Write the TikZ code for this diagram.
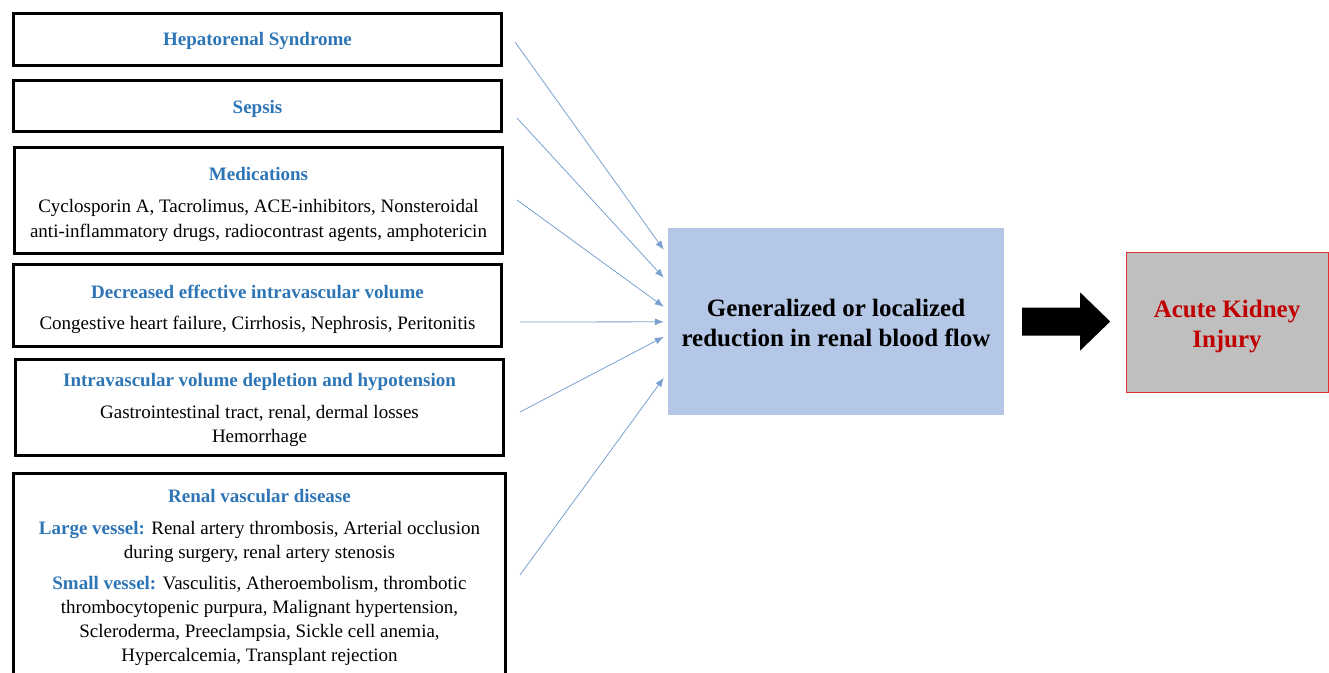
\documentclass[tikz,border=0pt]{standalone}
\usepackage{fontspec}
\setmainfont{Liberation Serif}
\usetikzlibrary{arrows.meta}

\definecolor{headblue}{RGB}{46,117,182}
\definecolor{feedblue}{RGB}{122,160,207}
\definecolor{flowblue}{RGB}{180,199,231}
\definecolor{akired}{RGB}{192,0,0}
\definecolor{akiedge}{RGB}{224,50,50}
\definecolor{akigray}{RGB}{191,191,191}

% heading text, optional strut lowers the block inside its box
\newcommand{\hd}[2][0pt]{\rule{0pt}{#1}\textbf{\color{headblue}#2}}

\tikzset{
  cause/.style={draw=black, line width=3pt, minimum width=488pt, align=center,
    inner sep=0pt, font=\fontsize{19}{24}\selectfont},
  feed/.style={draw=feedblue, line width=0.8pt, -{Latex[length=9pt,width=7pt]}}
}

\begin{document}
\begin{tikzpicture}[x=1pt,y=-1pt]
  \useasboundingbox (0,0) rectangle (1329,672);

  % causes
  \node[cause, minimum height=52pt]  (hrs) at (257.5,39.5) {\hd[17pt]{Hepatorenal Syndrome}};
  \node[cause, minimum height=51pt]  (sep) at (257.5,106) {\hd[19pt]{Sepsis}};
  \node[cause, minimum height=106pt] (med) at (258.5,200.5)
    {\hd[22pt]{Medications}\\[8pt]
     Cyclosporin A, Tacrolimus, ACE-inhibitors, Nonsteroidal\\[1pt]
     anti-inflammatory drugs, radiocontrast agents, amphotericin};
  \node[cause, minimum height=82pt]  (dev) at (257.5,305.5)
    {\hd[22pt]{Decreased effective intravascular volume}\\[7pt]
     Congestive heart failure, Cirrhosis, Nephrosis, Peritonitis};
  \node[cause, minimum height=96pt]  (ivd) at (259.5,407.5)
    {\hd[19pt]{Intravascular volume depletion and hypotension}\\[8pt]
     Gastrointestinal tract, renal, dermal losses\\
     Hemorrhage};
  \node[cause, minimum width=492pt, minimum height=208pt] (rvd) at (259.5,577.5)
    {\hd{Renal vascular disease}\\[8pt]
     \hd{Large vessel:} Renal artery thrombosis, Arterial occlusion\\
     during surgery, renal artery stenosis\\[7pt]
     \hd{Small vessel:} Vasculitis, Atheroembolism, thrombotic\\
     thrombocytopenic purpura, Malignant hypertension,\\
     Scleroderma, Preeclampsia, Sickle cell anemia,\\
     Hypercalcemia, Transplant rejection};

  % common pathway and outcome
  \node[fill=flowblue, minimum width=336pt, minimum height=187pt, align=center,
    font=\fontsize{25}{30}\selectfont\bfseries] (flow) at (836,321.5)
    {\rule{0pt}{21pt}Generalized or localized\\reduction in renal blood flow};
  \node[draw=akiedge, fill=akigray, line width=0.8pt, minimum width=202pt,
    minimum height=140pt, align=center, text=akired,
    font=\fontsize{25}{30}\selectfont\bfseries] (aki) at (1227,322)
    {\rule{0pt}{27pt}Acute Kidney\\Injury};

  \coordinate (s1) at (515,42);
  \coordinate (s2) at (517,118);
  \coordinate (s3) at (517,200);
  \coordinate (s4) at (520,322);
  \coordinate (s5) at (520,412);
  \coordinate (s6) at (520,575);

  \foreach \s/\dy in {s1/22, s2/50, s3/79, s4/94, s5/109, s6/150}
    \draw[feed] (\s) -- ([shift={(-4,\dy)}]flow.north west);

  % block arrow
  \fill[black] ([shift={(18,-14)}]flow.east) -- ++(58,0) -- ++(0,-15)
    -- ++(30,29) -- ++(-30,29) -- ++(0,-15) -- ++(-58,0) -- cycle;
\end{tikzpicture}
\end{document}
